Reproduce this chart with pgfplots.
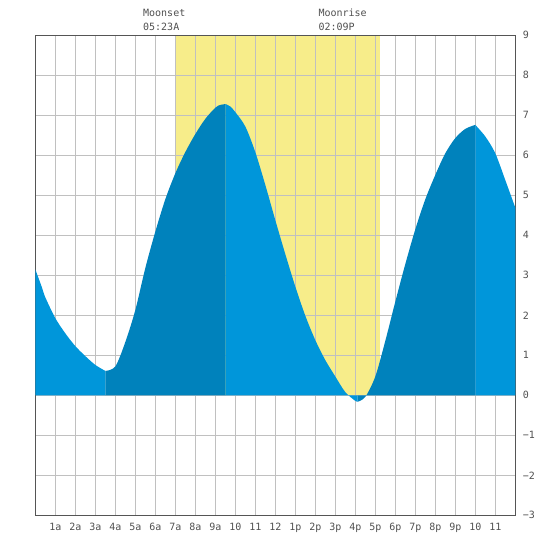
\documentclass[border=0pt]{standalone}
\usepackage{pgfplots}
\pgfplotsset{compat=1.18}
\usepackage{fontspec}
\setmainfont{DejaVu Sans Mono}

\definecolor{fallblue}{RGB}{0,150,218}
\definecolor{riseblue}{RGB}{0,130,188}
\definecolor{dayyellow}{RGB}{247,237,138}
\definecolor{gridgray}{RGB}{192,192,192}
\definecolor{framegray}{RGB}{85,85,85}
\definecolor{textgray}{RGB}{80,80,80}

\begin{document}
\begin{tikzpicture}[font=\fontsize{10}{12}\selectfont]
\begin{axis}[
    set layers,
    clip=false,
    at={(0pt,0pt)}, anchor=south west,
    scale only axis, width=480pt, height=480pt,
    xmin=0, xmax=24, ymin=-3, ymax=9,
    xtick={1,...,23},
    xticklabels={1a,2a,3a,4a,5a,6a,7a,8a,9a,10,11,12,1p,2p,3p,4p,5p,6p,7p,8p,9p,10,11},
    ytick={-3,-2,-1,0,1,2,3,4,5,6,7,8,9},
    yticklabels={−3,−2,−1,0,1,2,3,4,5,6,7,8,9},
    yticklabel pos=right,
    major tick length=0pt,
    grid=major,
    major grid style={draw=gridgray, line width=1pt},
    axis line style={draw=framegray, line width=1.3pt},
    tick label style={font=\fontsize{10}{12}\selectfont, text=textgray, inner sep=0pt},
    xticklabel style={anchor=base, yshift=-15.4pt},
    yticklabel style={anchor=west, xshift=7.4pt},
]
% daylight band (sunrise to sunset)
\addplot[fill=dayyellow, draw=none, on layer=axis background]
    coordinates {(7.0,0) (7.0,9) (17.22,9) (17.22,0)} -- cycle;

% falling tide
\addplot[fill=fallblue, draw=none, smooth] coordinates {
    (0,3.15) (0.33,2.7) (0.5,2.45) (1.0,1.93) (1.5,1.55) (2.0,1.23) (2.5,0.98)
    (3.0,0.76) (3.5,0.61)
} \closedcycle;
% rising tide
\addplot[fill=riseblue, draw=none, smooth] coordinates {
    (3.5,0.61) (4.0,0.72) (4.5,1.33) (5.0,2.13) (5.5,3.18) (6.0,4.09) (6.5,4.9)
    (7.0,5.55) (7.5,6.08) (8.0,6.53) (8.5,6.91) (9.0,7.19) (9.25,7.26) (9.52,7.28)
} \closedcycle;
% falling tide
\addplot[fill=fallblue, draw=none, smooth] coordinates {
    (9.52,7.28) (9.75,7.22) (10.0,7.08) (10.5,6.72) (11.0,6.08) (11.5,5.26) (12.0,4.38)
    (12.5,3.53) (13.0,2.72) (13.5,1.99) (14.0,1.38) (14.5,0.88) (15.0,0.47)
    (15.5,0.08) (16.0,-0.14) (16.12,-0.16)
} \closedcycle;
% rising tide
\addplot[fill=riseblue, draw=none, smooth] coordinates {
    (16.12,-0.16) (16.5,-0.04) (17.0,0.47) (17.5,1.36) (18.0,2.34) (18.5,3.28)
    (19.0,4.15) (19.5,4.9) (20.0,5.51) (20.5,6.05) (21.0,6.43) (21.5,6.66)
    (22.0,6.76)
} \closedcycle;
% falling tide
\addplot[fill=fallblue, draw=none, smooth] coordinates {
    (22.0,6.76) (22.5,6.47) (23.0,6.05) (23.5,5.38) (24.0,4.69)
} \closedcycle;

% moon events
\node[anchor=base west, inner sep=0pt, text=textgray, yshift=18.6pt] at (axis cs:5.383,9) {Moonset};
\node[anchor=base west, inner sep=0pt, text=textgray, yshift=5.3pt] at (axis cs:5.383,9) {05:23A};
\node[anchor=base west, inner sep=0pt, text=textgray, yshift=18.6pt] at (axis cs:14.15,9) {Moonrise};
\node[anchor=base west, inner sep=0pt, text=textgray, yshift=5.3pt] at (axis cs:14.15,9) {02:09P};
\end{axis}
\pgfresetboundingbox
\useasboundingbox (-35.3pt,-34.7pt) rectangle (514.7pt,515.3pt);
\end{tikzpicture}
\end{document}
